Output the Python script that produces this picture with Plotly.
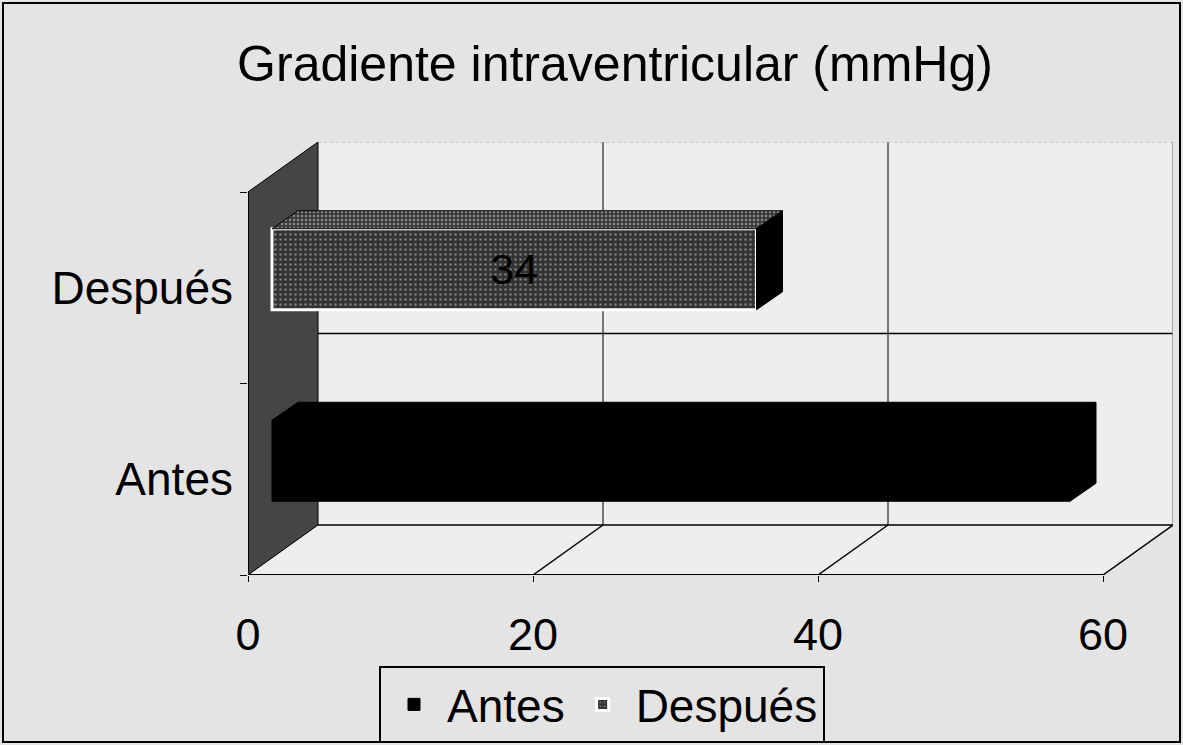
import plotly.graph_objects as go

# ---------------- data ----------------
categories = ["Antes", "Después"]
values = [56, 34]
bar_labels = ["", "34"]
x_tick_vals = [0, 20, 40, 60]
x_tick_text = ["0", "20", "40", "60"]
title_text = "Gradiente intraventricular (mmHg)"

# ---------------- geometry ----------------
W, H = 1183, 745
ML, MR, MT, MB = 248, 10, 142, 170
plot_w = W - ML - MR
plot_h = H - MT - MB
XMAX = 60
PX = (1103 - 248) / XMAX            # pixels per unit on the front plane
x_range = [0, plot_w / PX]
DX = 70 / PX                         # depth offset (x units)
DY = 50                              # depth offset (y units = px)
Y_TOP = plot_h
FRONT_TOP = Y_TOP - DY
n = len(categories)
slot = FRONT_TOP / n
centers = [slot * (i + 0.5) for i in range(n)]
bounds = [slot * i for i in range(n + 1)]
BAR_H = 81
OX1, OY1 = 24 / PX, 18.5             # bar front-face depth offset
OX2, OY2 = 26 / PX, 18               # bar depth

FONT = "Arial, 'Liberation Sans', sans-serif"
PAPER = "#e4e4e4"
WALL = "#eeeeee"

fig = go.Figure()

# front faces of the bars
styles = [
    dict(color="black", line=dict(color="black", width=1)),
    dict(color="#333333", line=dict(color="white", width=3),
         pattern=dict(shape=".", fgcolor="#c8c8c8", size=5, solidity=0.2)),
]
for i, cat in enumerate(categories):
    fig.add_trace(go.Bar(
        orientation="h", name=cat,
        y=[centers[i] + OY1], x=[values[i]], base=[OX1], width=[BAR_H],
        marker=styles[i],
        text=[bar_labels[i]], textposition="inside", insidetextanchor="middle",
        textangle=0, textfont=dict(size=43, color="black", family=FONT),
        hoverinfo="skip",
    ))

# top and side faces (computed from the same values)
top_fill = ["black", "#4a4a4a"]
for i, cat in enumerate(categories):
    x0 = OX1
    x1 = OX1 + values[i]
    yt = centers[i] + OY1 + BAR_H / 2
    yb = centers[i] + OY1 - BAR_H / 2
    top_kw = dict(fillcolor=top_fill[i])
    if i == 1:
        top_kw["fillpattern"] = dict(shape=".", fgcolor="#d8d8d8", bgcolor="#3a3a3a", size=4, solidity=0.3)
    fig.add_trace(go.Scatter(
        x=[x0, x1, x1 + OX2, x0 + OX2, x0],
        y=[yt, yt, yt + OY2, yt + OY2, yt],
        mode="lines", fill="toself", line=dict(color="black", width=1),
        showlegend=False, hoverinfo="skip", **top_kw))
    fig.add_trace(go.Scatter(
        x=[x1, x1 + OX2, x1 + OX2, x1, x1],
        y=[yt, yt + OY2, yb + OY2, yb, yt],
        mode="lines", fill="toself", fillcolor="black", line=dict(color="black", width=1),
        showlegend=False, hoverinfo="skip"))

# ---------------- walls & grid (shapes) ----------------
shapes = []
def path(pts):
    return "M " + " L ".join(f"{x},{y}" for x, y in pts) + " Z"

# back wall
shapes.append(dict(type="rect", x0=DX, x1=XMAX + DX, y0=DY, y1=Y_TOP,
                   fillcolor=WALL, line=dict(width=0), layer="below"))
# floor
shapes.append(dict(type="path", path=path([(0, 0), (XMAX, 0), (XMAX + DX, DY), (DX, DY)]),
                   fillcolor=WALL, line=dict(width=0), layer="below"))
# left wall
shapes.append(dict(type="path", path=path([(0, 0), (DX, DY), (DX, Y_TOP), (0, FRONT_TOP)]),
                   fillcolor="#454545", line=dict(color="black", width=1), layer="below"))
# back wall gridlines
for v in x_tick_vals[1:-1]:
    shapes.append(dict(type="line", x0=v + DX, x1=v + DX, y0=DY, y1=Y_TOP,
                       line=dict(color="black", width=1), layer="below"))
for b in bounds[1:-1]:
    shapes.append(dict(type="line", x0=DX, x1=XMAX + DX, y0=b + DY, y1=b + DY,
                       line=dict(color="black", width=1.5), layer="below"))
# back wall right edge and top edge
shapes.append(dict(type="line", x0=XMAX + DX, x1=XMAX + DX, y0=DY, y1=Y_TOP,
                   line=dict(color="#8a8a8a", width=1.5), layer="below"))
shapes.append(dict(type="line", x0=DX, x1=XMAX + DX, y0=Y_TOP, y1=Y_TOP,
                   line=dict(color="#9a9a9a", width=1, dash="dot"), layer="below"))
# back floor line
shapes.append(dict(type="line", x0=DX, x1=XMAX + DX, y0=DY, y1=DY,
                   line=dict(color="black", width=1.5), layer="below"))
# floor diagonals
for v in x_tick_vals[1:]:
    shapes.append(dict(type="line", x0=v, x1=v + DX, y0=0, y1=DY,
                       line=dict(color="black", width=1.5), layer="below"))
# front floor line and category axis line
shapes.append(dict(type="line", x0=0, x1=XMAX, y0=0, y1=0,
                   line=dict(color="black", width=2), layer="below"))
shapes.append(dict(type="line", x0=0, x1=0, y0=0, y1=FRONT_TOP,
                   line=dict(color="black", width=1.5), layer="below"))
# outer frame of the picture
shapes.append(dict(type="rect", xref="paper", yref="paper",
                   x0=(3 - ML) / plot_w, x1=(1180 - ML) / plot_w,
                   y0=(MT + plot_h - 742) / plot_h, y1=(MT + plot_h - 3) / plot_h,
                   line=dict(color="black", width=2), fillcolor="rgba(0,0,0,0)"))

fig.update_layout(
    width=W, height=H, autosize=False,
    margin=dict(l=ML, r=MR, t=MT, b=MB, pad=0, autoexpand=False),
    paper_bgcolor=PAPER, plot_bgcolor=PAPER,
    font=dict(family=FONT, color="black"),
    title=dict(text=title_text, x=615 / W, xanchor="center",
               y=1 - 63 / H, yanchor="middle",
               font=dict(size=50, family=FONT, color="black")),
    barmode="overlay",
    showlegend=True,
    legend=dict(orientation="h", x=(602 - ML) / plot_w, xanchor="center",
                y=(575 - 666) / plot_h, yanchor="top",
                font=dict(size=46, family=FONT, color="black"),
                bordercolor="black", borderwidth=2, bgcolor="rgba(0,0,0,0)",
                itemwidth=56, traceorder="normal"),
    shapes=shapes,
)
fig.update_xaxes(range=x_range, tickvals=x_tick_vals, ticktext=x_tick_text,
                 showgrid=False, zeroline=False, showline=False,
                 ticks="outside", ticklen=6, tickcolor="black",
                 ticklabelstandoff=14,
                 tickfont=dict(size=45, family=FONT, color="black"), fixedrange=True)
fig.update_yaxes(range=[0, Y_TOP], tickvals=centers, ticktext=categories,
                 showgrid=False, zeroline=False, showline=False, ticks="",
                 ticklabelstandoff=14,
                 minor=dict(tickvals=bounds, ticks="outside", ticklen=7, tickcolor="black"),
                 tickfont=dict(size=46, family=FONT, color="black"), fixedrange=True)

fig.write_html("out.html", config={"displayModeBar": False},
               post_script="document.body.style.margin='0';document.body.style.overflow='hidden';")
